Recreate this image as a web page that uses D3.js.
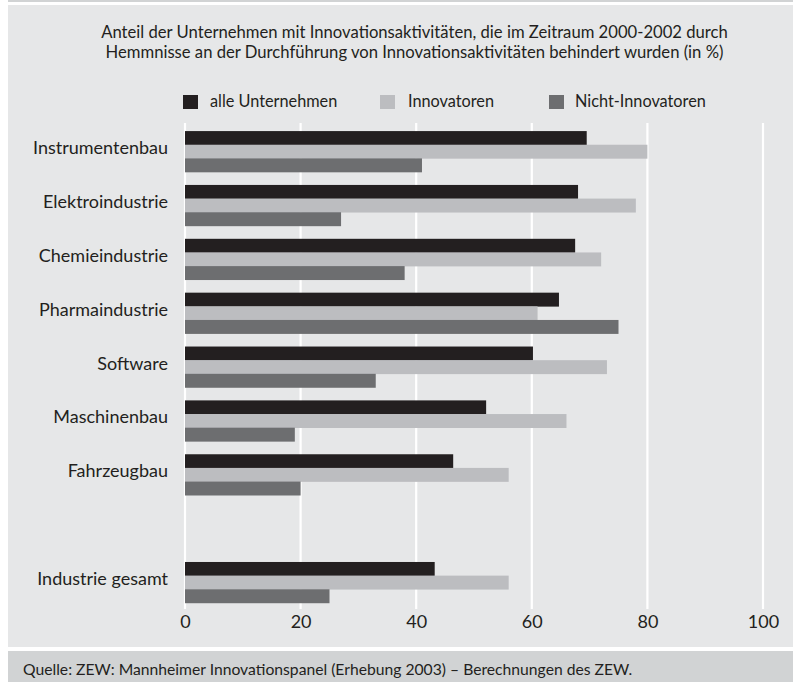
<!DOCTYPE html>
<html><head><meta charset="utf-8">
<script src="https://cdn.jsdelivr.net/npm/d3@7"></script>
<style>html,body{margin:0;padding:0;background:#fff;}svg{display:block;}</style>
</head><body>
<svg id="chart" width="793" height="682"></svg>
<script>
const categories = ["Instrumentenbau","Elektroindustrie","Chemieindustrie","Pharmaindustrie","Software","Maschinenbau","Fahrzeugbau","","Industrie gesamt"];
const seriesNames = ["alle Unternehmen","Innovatoren","Nicht-Innovatoren"];
const alleUnternehmen = [69.5,68,67.5,64.7,60.2,52.1,46.4,null,43.2];
const innovatoren     = [80,78,72,61,73,66,56,null,56];
const nichtInnovatoren= [41,27,38,75,33,19,20,null,25];
const xTicks = [0,20,40,60,80,100];
const titleLines = ["Anteil der Unternehmen mit Innovationsaktivitäten, die im Zeitraum 2000-2002 durch","Hemmnisse an der Durchführung von Innovationsaktivitäten behindert wurden (in %)"];
const sourceText = "Quelle: ZEW: Mannheimer Innovationspanel (Erhebung 2003) – Berechnungen des ZEW.";

const seriesValues = [alleUnternehmen, innovatoren, nichtInnovatoren];
const colors = ["#231f20","#bcbdc0","#6d6e70"];
const FONT = "Lato, 'Open Sans', sans-serif";
const TXT = "#231f20";

const svg = d3.select("#chart");

// measuring helper for font fitting
const meas = svg.append("text").attr("font-family", FONT).attr("font-size", 100).attr("visibility","hidden");
function fitSize(str, width){ meas.text(str); const w = meas.node().getComputedTextLength(); return 100*width/w; }

// frame
svg.append("rect").attr("x",8).attr("y",0).attr("width",785).attr("height",2).attr("fill","#d1d3d4");
svg.append("rect").attr("x",8).attr("y",5).attr("width",785).attr("height",642).attr("fill","#e6e7e8");
svg.append("rect").attr("x",8).attr("y",651).attr("width",785).attr("height",31).attr("fill","#d1d3d4");

const x = d3.scaleLinear().domain([0,100]).range([185,763]);
const y = d3.scaleBand().domain(categories.map((c,i)=>i)).range([123,611]).paddingInner(0.24).paddingOuter(0.15);
const yInner = d3.scaleBand().domain(d3.range(3)).range([0,y.bandwidth()]).padding(0);

// grid
svg.append("g").selectAll("line").data(xTicks).join("line")
  .attr("x1",d=>x(d)).attr("x2",d=>x(d)).attr("y1",123).attr("y2",609)
  .attr("stroke","#fff").attr("stroke-width",2.2);

// bars
const groups = svg.append("g").selectAll("g").data(categories).join("g")
  .attr("transform",(d,i)=>`translate(0,${y(i)})`);
groups.each(function(c,i){
  const g = d3.select(this);
  seriesValues.forEach((vals,s)=>{
    if(vals[i]==null) return;
    g.append("rect").attr("x",x(0)).attr("y",yInner(s)).attr("width",x(vals[i])-x(0))
      .attr("height",yInner.bandwidth()+0.3).attr("fill",colors[s]);
  });
});

// category labels
const labSize = fitSize("Instrumentenbau",135);
svg.append("g").selectAll("text").data(categories).join("text")
  .attr("x",168).attr("y",(d,i)=>y(i)+23).attr("text-anchor","end")
  .attr("font-family",FONT).attr("font-size",labSize).attr("fill",TXT).text(d=>d);

// x axis
const axis = svg.append("g").attr("transform","translate(0,611)")
  .call(d3.axisBottom(x).tickValues(xTicks).tickSize(0).tickPadding(0));
axis.select(".domain").remove();
axis.selectAll("text").attr("font-family",FONT).attr("font-size",labSize).attr("fill",TXT)
  .attr("dy",null).attr("y",17);

// title
const tSize = fitSize(titleLines[0],627);
svg.append("g").selectAll("text").data(titleLines).join("text")
  .attr("x",414.5).attr("y",(d,i)=>38+i*20).attr("text-anchor","middle")
  .attr("font-family",FONT).attr("font-size",tSize).attr("fill",TXT).text(d=>d);

// legend
const legX = [183,380,549];
const legSize = fitSize("Nicht-Innovatoren",131);
const leg = svg.append("g").selectAll("g").data(seriesNames).join("g")
  .attr("transform",(d,i)=>`translate(${legX[i]},95)`);
leg.append("rect").attr("width",15).attr("height",14).attr("fill",(d,i)=>colors[i]);
leg.append("text").attr("x",(d,i)=>[27,28,26][i]).attr("y",12)
  .attr("font-family",FONT).attr("font-size",legSize).attr("fill",TXT).text(d=>d);

// source
const sSize = fitSize(sourceText,610);
svg.append("text").attr("x",23).attr("y",675).attr("font-family",FONT).attr("font-size",sSize)
  .attr("fill",TXT).text(sourceText);
meas.remove();
</script>
</body></html>
